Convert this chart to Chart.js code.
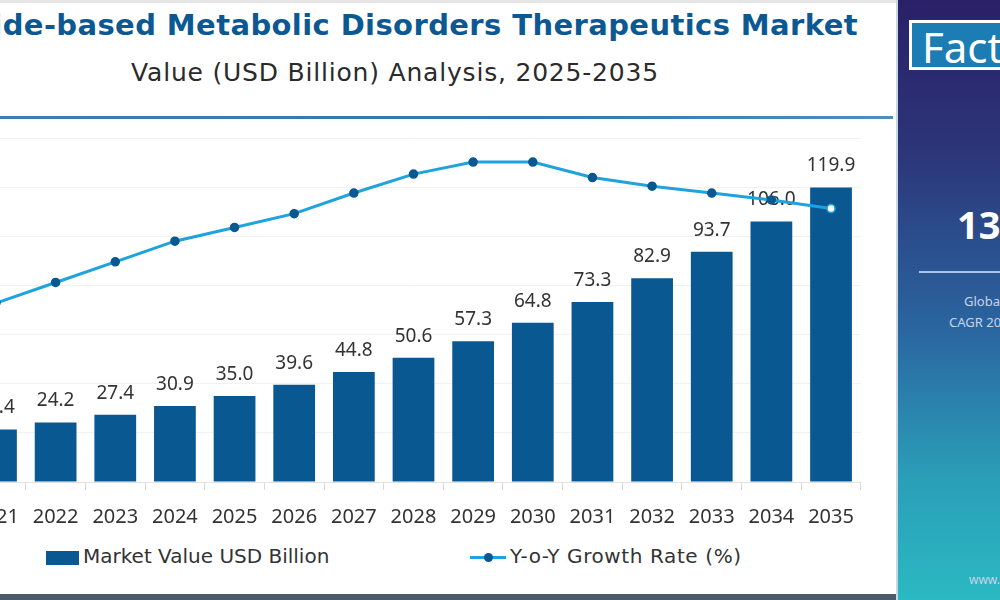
<!DOCTYPE html>
<html>
<head>
<meta charset="utf-8">
<script src="https://cdn.jsdelivr.net/npm/chart.js@4.4.1/dist/chart.umd.min.js"></script>
<style>
  html, body { margin: 0; padding: 0; }
  body { width: 1000px; height: 600px; position: relative; overflow: hidden; background: #fff; font-family: "Noto Sans", sans-serif; }
  .topband { position: absolute; left: 0; top: 0; width: 896px; height: 3px; background: #e6e6e6; }
  .botband { position: absolute; left: 0; top: 594px; width: 896px; height: 6px; background: #4b5a68; }
  .title { position: absolute; right: 142px; top: 8px; white-space: nowrap; font-family: "DejaVu Sans", sans-serif; font-weight: 700; font-size: 29px; letter-spacing: 0.4px; color: #0c5893; }
  .subtitle { position: absolute; left: 0; width: 790px; top: 58px; text-align: center; white-space: nowrap; font-family: "DejaVu Sans", sans-serif; font-size: 25px; letter-spacing: 0.8px; color: #2b2b2b; }
  .rule { position: absolute; left: 0; top: 116px; width: 893px; height: 3px; background: linear-gradient(90deg, #3d7fae, #2f79ad 60%, #4c90c0); }
  .chartbox { position: absolute; left: -42px; top: 125px; width: 911px; height: 419px; }
  .legend { position: absolute; top: 544px; font-family: "DejaVu Sans", sans-serif; font-size: 20px; color: #333; white-space: nowrap; }
  .legend .sw { display: inline-block; vertical-align: middle; }
  .panel { position: absolute; left: 896px; top: 0; width: 104px; height: 600px; background: linear-gradient(180deg, #2a2068 0%, #2c3578 25%, #2a66a0 55%, #2a9fb8 80%, #2bb9c2 100%); border-left: 2px solid #c9d6e4; box-sizing: border-box; overflow: hidden; }
  .logo { position: absolute; left: 11px; top: 20px; width: 140px; height: 50px; border: 3px solid #fff; background: #1c7db4; color: #fff; font-size: 42px; line-height: 48px; padding-left: 10px; box-sizing: border-box; }
  .big { position: absolute; left: 59px; top: 198px; white-space: nowrap; font-size: 38px; font-weight: 700; color: #fff; }
  .hr { position: absolute; left: 21px; top: 271px; width: 120px; height: 2px; background: #aac4e6; }
  .small { position: absolute; white-space: nowrap; font-size: 13px; color: #c8d4ea; }
</style>
</head>
<body>
<div class="topband"></div>
<div class="title">Peptide-based Metabolic Disorders Therapeutics Market</div>
<div class="subtitle">Value (USD Billion) Analysis, 2025-2035</div>
<div class="rule"></div>
<div class="chartbox"><canvas id="marketChart"></canvas></div>
<div class="legend" id="legendBar" style="left:46px;"></div>
<div class="legend" id="legendLine" style="left:470px; letter-spacing:0.6px;"></div>
<div class="botband"></div>
<div class="panel">
  <div class="logo">Fact.MR</div>
  <div class="big">13.1%</div>
  <div class="hr"></div>
  <div class="small" style="left:66px; top:292px;">Global Market</div>
  <div class="small" style="left:51px; top:313px;">CAGR 2025-2035</div>
  <div class="small" style="left:71px; top:571px; font-size:12px;">www.factmr.com</div>
</div>
<script>
  const years = ["2021", "2022", "2023", "2024", "2025", "2026", "2027", "2028", "2029", "2030", "2031", "2032", "2033", "2034", "2035"];
  const marketValue = [21.4, 24.2, 27.4, 30.9, 35.0, 39.6, 44.8, 50.6, 57.3, 64.8, 73.3, 82.9, 93.7, 106.0, 119.9];
  const yoyGrowth = [10.4, 11.6, 12.8, 14.0, 14.8, 15.6, 16.8, 17.9, 18.6, 18.6, 17.7, 17.2, 16.8, 16.4, 15.9];
  const seriesNames = ["Market Value USD Billion", "Y-o-Y Growth Rate (%)"];

  const barColor = "#0a5891";
  const lineColor = "#1ea3dd";

  // value labels above the bars, drawn before the line so it passes over them
  const barLabels = {
    id: "barLabels",
    afterDatasetDraw(chart, args) {
      if (args.index !== 0) return;
      const ctx = chart.ctx;
      ctx.save();
      ctx.font = "19px 'Noto Sans'";
      ctx.fillStyle = "#333";
      ctx.textAlign = "center";
      ctx.textBaseline = "bottom";
      args.meta.data.forEach((bar, i) => {
        ctx.fillText(marketValue[i].toFixed(1), bar.x, bar.y - 12);
      });
      ctx.restore();
    }
  };

  const last = yoyGrowth.length - 1;

  new Chart(document.getElementById("marketChart"), {
    type: "bar",
    data: {
      labels: years,
      datasets: [
        {
          type: "bar",
          label: seriesNames[0],
          data: marketValue,
          backgroundColor: barColor,
          categoryPercentage: 0.7,
          barPercentage: 1,
          yAxisID: "y",
          order: 2
        },
        {
          type: "line",
          label: seriesNames[1],
          data: yoyGrowth,
          borderColor: lineColor,
          borderWidth: 3,
          pointRadius: 4,
          pointBorderWidth: 1.5,
          pointBackgroundColor: (c) => c.dataIndex === last ? "#fff" : barColor,
          pointBorderColor: (c) => c.dataIndex === last ? lineColor : barColor,
          tension: 0,
          yAxisID: "y1",
          order: 1
        }
      ]
    },
    options: {
      responsive: true,
      maintainAspectRatio: false,
      animation: false,
      layout: { padding: { top: 13, left: 0, right: 0, bottom: 0 } },
      plugins: {
        legend: { display: false },
        tooltip: { enabled: false }
      },
      scales: {
        x: {
          offset: true,
          grid: { display: true, drawOnChartArea: false, tickLength: 8, color: "#d9d9d9" },
          border: { color: "#e2e2e2" },
          ticks: { padding: 15, color: "#333", font: { family: "Noto Sans", size: 20 } }
        },
        y: {
          min: 0,
          max: 140,
          ticks: { display: false, stepSize: 20 },
          grid: { color: "#f1f1f1", drawTicks: false },
          border: { display: false }
        },
        y1: {
          display: false,
          min: 0,
          max: 20
        }
      }
    },
    plugins: [barLabels]
  });

  // html legend from the series names
  const lb = document.getElementById("legendBar");
  lb.innerHTML = '<span class="sw" style="width:33px;height:14px;background:' + barColor + ';margin-right:4px;"></span>' + seriesNames[0];
  const ll = document.getElementById("legendLine");
  ll.innerHTML = '<span class="sw" style="position:relative;width:36px;height:3px;background:' + lineColor + ';margin-right:4px;">' +
    '<span style="position:absolute;left:14px;top:-3px;width:9px;height:9px;border-radius:50%;background:' + barColor + ';"></span></span>' + seriesNames[1];
</script>
</body>
</html>
